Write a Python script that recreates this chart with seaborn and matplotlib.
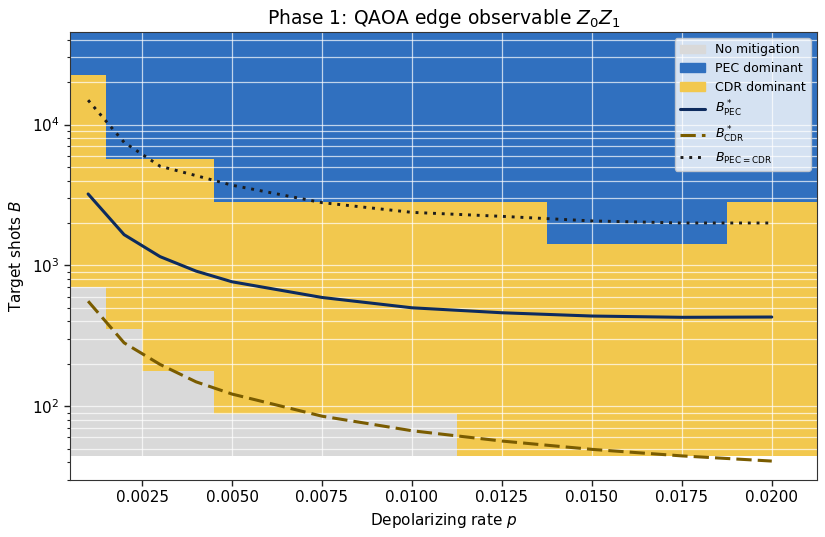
import numpy as np
import matplotlib
matplotlib.use("Agg")
import matplotlib.pyplot as plt
import seaborn as sns
from matplotlib.colors import ListedColormap
from matplotlib.patches import Patch
from matplotlib.lines import Line2D

# depolarizing rates and target shot budgets of the regime grid
p_vals = [0.001, 0.002, 0.003, 0.004, 0.005, 0.0075, 0.01, 0.0125, 0.015, 0.0175, 0.02]
B_vals = [62.5, 125, 250, 500, 1000, 2000, 4000, 8000, 16000, 32000]

# regime per column (0 = no mitigation, 1 = PEC, 2 = CDR), rows follow B_vals
regime_cols = [
    [0, 0, 0, 0, 2, 2, 2, 2, 2, 1],
    [0, 0, 0, 2, 2, 2, 2, 1, 1, 1],
    [0, 0, 2, 2, 2, 2, 2, 1, 1, 1],
    [0, 0, 2, 2, 2, 2, 2, 1, 1, 1],
    [0, 2, 2, 2, 2, 2, 1, 1, 1, 1],
    [0, 2, 2, 2, 2, 2, 1, 1, 1, 1],
    [0, 2, 2, 2, 2, 2, 1, 1, 1, 1],
    [2, 2, 2, 2, 2, 2, 1, 1, 1, 1],
    [2, 2, 2, 2, 2, 1, 1, 1, 1, 1],
    [2, 2, 2, 2, 2, 1, 1, 1, 1, 1],
    [2, 2, 2, 2, 2, 2, 1, 1, 1, 1],
]

# threshold curves
B_pec = [3215, 1653, 1154, 911, 765, 592, 500, 461, 437, 428, 430]
B_cdr = [557, 282, 198, 149, 122, 85, 67, 56.6, 49.4, 44.4, 40.8]
B_cross = [14900, 7480, 5060, 4340, 3710, 2790, 2380, 2230, 2070, 2000, 2000]

c_none = "#d9d9d9"
c_pec = "#3070bf"
c_cdr = "#f2c84e"
c_lpec = "#0d2b5e"
c_lcdr = "#7a5c00"
c_lx = "#1c1c1c"
dash = (0, (5, 2))
dot = (0, (1, 2))

sns.set_style("ticks")
plt.rcParams["font.family"] = ["DejaVu Sans"]
plt.rcParams["font.size"] = 11

fig, ax = plt.subplots(figsize=(8.25, 5.37), dpi=100)

# cell edges: linear midpoints in p, geometric midpoints in B (log axis)
p_arr = np.array(p_vals)
p_mid = (p_arr[1:] + p_arr[:-1]) / 2
p_edges = np.concatenate([[p_arr[0] - (p_mid[0] - p_arr[0])], p_mid, [p_arr[-1] + (p_arr[-1] - p_mid[-1])]])
lb = np.log10(B_vals)
lb_mid = (lb[1:] + lb[:-1]) / 2
B_edges = 10 ** np.concatenate([[lb[0] - (lb_mid[0] - lb[0])], lb_mid, [lb[-1] + (lb[-1] - lb_mid[-1])]])

Z = np.array(regime_cols).T
cmap = ListedColormap([c_none, c_pec, c_cdr])
ax.pcolormesh(p_edges, B_edges, Z, cmap=cmap, vmin=-0.5, vmax=2.5, shading="flat", zorder=1)

sns.lineplot(x=p_vals, y=B_pec, ax=ax, color=c_lpec, lw=2.2, zorder=3)
sns.lineplot(x=p_vals, y=B_cdr, ax=ax, color=c_lcdr, lw=2.2, ls=dash, zorder=3)
sns.lineplot(x=p_vals, y=B_cross, ax=ax, color=c_lx, lw=2.1, ls=dot, zorder=3)

ax.set_yscale("log")
ax.set_xlim(p_edges[0], p_edges[-1])
ax.set_ylim(29.9, B_edges[-1])
ax.set_xticks([0.0025, 0.005, 0.0075, 0.01, 0.0125, 0.015, 0.0175, 0.02])
ax.tick_params(which="major", length=4, width=1, colors="#222222", labelcolor="black")
ax.tick_params(axis="y", which="minor", length=2.5, width=0.8, colors="#222222")

ax.set_axisbelow("line")
ax.grid(True, which="major", axis="x", color="white", lw=0.9, alpha=0.7)
ax.grid(True, which="both", axis="y", color="white", lw=0.9, alpha=0.7)
for s in ax.spines.values():
    s.set_color("#333333")

ax.set_xlabel(r"Depolarizing rate $p$", color="black")
ax.set_ylabel(r"Target shots $B$", color="black")
ax.set_title(r"Phase 1: QAOA edge observable $Z_0Z_1$", fontsize=13.5, color="black")

handles = [
    Patch(color=c_none, label="No mitigation"),
    Patch(color=c_pec, label="PEC dominant"),
    Patch(color=c_cdr, label="CDR dominant"),
    Line2D([], [], color=c_lpec, lw=2.2, label=r"$B^*_{\mathrm{PEC}}$"),
    Line2D([], [], color=c_lcdr, lw=2.2, ls=dash, label=r"$B^*_{\mathrm{CDR}}$"),
    Line2D([], [], color=c_lx, lw=2.1, ls=dot, label=r"$B_{\mathrm{PEC=CDR}}$"),
]
leg = ax.legend(handles=handles, loc="upper right", fontsize=9, framealpha=0.8,
                labelspacing=0.45)
for t in leg.get_texts():
    t.set_color("black")

fig.subplots_adjust(left=0.085, right=0.990, top=0.940, bottom=0.106)
fig.savefig("out.png", dpi=100)
